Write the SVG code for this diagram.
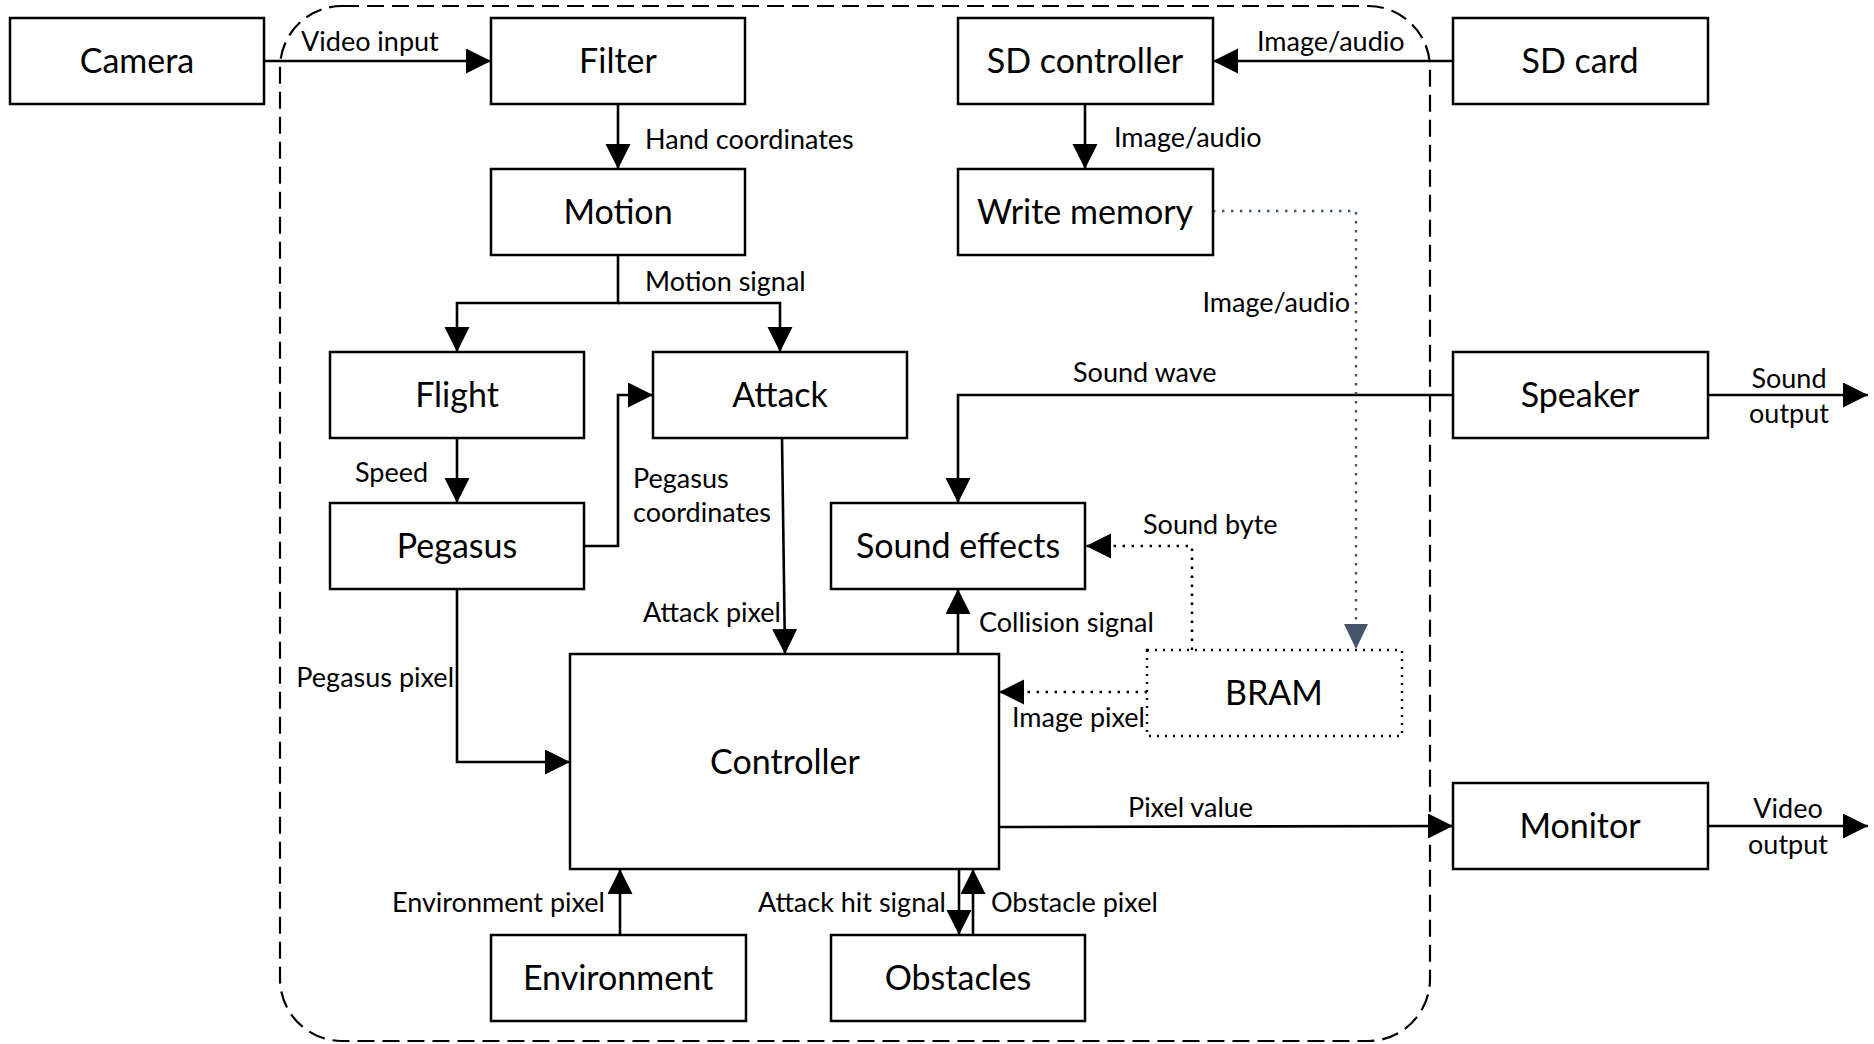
<svg xmlns="http://www.w3.org/2000/svg" width="1874" height="1044" viewBox="0 0 1874 1044">
<style>
.box{fill:#fff;stroke:#000;stroke-width:2.5}
.dbox{fill:none;stroke:#000;stroke-width:2.4;stroke-dasharray:2 6}
.bt{font-family:Lato,"Open Sans",sans-serif;font-size:34px;fill:#000;text-anchor:middle}
.lt{font-family:Lato,"Open Sans",sans-serif;font-size:27px;fill:#000}
.ln{fill:none;stroke:#000;stroke-width:2.6}
.dl{fill:none;stroke:#000;stroke-width:2.6;stroke-dasharray:2.4 6.6}
.gl{fill:none;stroke:#44546A;stroke-width:2.4;stroke-dasharray:2.4 6.6}
</style>
<defs>
<marker id="a" markerUnits="userSpaceOnUse" markerWidth="26" markerHeight="26" refX="25" refY="12.5" orient="auto">
<path d="M0,0 L25,12.5 L0,25 z" fill="#000"/>
</marker>
<marker id="g" markerUnits="userSpaceOnUse" markerWidth="26" markerHeight="26" refX="25" refY="12" orient="auto">
<path d="M0,0 L25,12 L0,24 z" fill="#44546A"/>
</marker>
</defs>
<rect x="280" y="6" width="1150" height="1035" rx="62" ry="62" fill="none" stroke="#000" stroke-width="2.2" stroke-dasharray="17 8"/>
<g id="connectors">
<path class="ln" d="M264,61 H491" marker-end="url(#a)"/>
<path class="ln" d="M618,104 V169" marker-end="url(#a)"/>
<path class="ln" d="M1453,61 H1213" marker-end="url(#a)"/>
<path class="ln" d="M1085,104 V169" marker-end="url(#a)"/>
<path class="ln" d="M618,255 V303 H457 V352" marker-end="url(#a)"/>
<path class="ln" d="M618,303 H780 V352" marker-end="url(#a)"/>
<path class="ln" d="M457,438 V503" marker-end="url(#a)"/>
<path class="ln" d="M584,546 H618 V395 H653" marker-end="url(#a)"/>
<path class="ln" d="M782,438 L785,654" marker-end="url(#a)"/>
<path class="ln" d="M457,589 V762 H570" marker-end="url(#a)"/>
<path class="ln" d="M1453,395 H958 V503" marker-end="url(#a)"/>
<path class="ln" d="M1708,395 H1868" marker-end="url(#a)"/>
<path class="ln" d="M999,827 L1453,826" marker-end="url(#a)"/>
<path class="ln" d="M1708,826 H1868" marker-end="url(#a)"/>
<path class="ln" d="M958,654 V589" marker-end="url(#a)"/>
<path class="dl" d="M1192,650 V546 H1086" marker-end="url(#a)"/>
<path class="dl" d="M1147,692 H999" marker-end="url(#a)"/>
<path class="gl" d="M1213,211 H1356 V649" marker-end="url(#g)"/>
<path class="ln" d="M620,935 V869" marker-end="url(#a)"/>
<path class="ln" d="M959,869 V935" marker-end="url(#a)"/>
<path class="ln" d="M973,935 V869" marker-end="url(#a)"/>
</g>
<g id="labels">
<text class="lt" x="301" y="51">Video input</text>
<text class="lt" x="645" y="149">Hand coordinates</text>
<text class="lt" x="645" y="291">Motion signal</text>
<text class="lt" x="1257" y="51">Image/audio</text>
<text class="lt" x="1114" y="147">Image/audio</text>
<text class="lt" x="1350" y="312" text-anchor="end">Image/audio</text>
<text class="lt" x="1073" y="382">Sound wave</text>
<text class="lt" x="1789" y="388" text-anchor="middle">Sound</text>
<text class="lt" x="1789" y="423" text-anchor="middle">output</text>
<text class="lt" x="355" y="482">Speed</text>
<text class="lt" x="633" y="488">Pegasus</text>
<text class="lt" x="633" y="522">coordinates</text>
<text class="lt" x="781" y="622" text-anchor="end">Attack pixel</text>
<text class="lt" x="454" y="687" text-anchor="end">Pegasus pixel</text>
<text class="lt" x="1143" y="534">Sound byte</text>
<text class="lt" x="979" y="632">Collision signal</text>
<text class="lt" x="1145" y="727" text-anchor="end">Image pixel</text>
<text class="lt" x="1128" y="817">Pixel value</text>
<text class="lt" x="1788" y="818" text-anchor="middle">Video</text>
<text class="lt" x="1788" y="854" text-anchor="middle">output</text>
<text class="lt" x="605" y="912" text-anchor="end">Environment pixel</text>
<text class="lt" x="946" y="912" text-anchor="end">Attack hit signal</text>
<text class="lt" x="991" y="912">Obstacle pixel</text>
</g>
<g id="camera"><rect class="box" x="10" y="18" width="254" height="86"/><text class="bt" x="137" y="73">Camera</text></g>
<g id="filter"><rect class="box" x="491" y="18" width="254" height="86"/><text class="bt" x="618" y="73">Filter</text></g>
<g id="sd-controller"><rect class="box" x="958" y="18" width="255" height="86"/><text class="bt" x="1085" y="73">SD controller</text></g>
<g id="sd-card"><rect class="box" x="1453" y="18" width="255" height="86"/><text class="bt" x="1580" y="73">SD card</text></g>
<g id="motion"><rect class="box" x="491" y="169" width="254" height="86"/><text class="bt" x="618" y="224">Motion</text></g>
<g id="write-memory"><rect class="box" x="958" y="169" width="255" height="86"/><text class="bt" x="1085" y="224">Write memory</text></g>
<g id="flight"><rect class="box" x="330" y="352" width="254" height="86"/><text class="bt" x="457" y="407">Flight</text></g>
<g id="attack"><rect class="box" x="653" y="352" width="254" height="86"/><text class="bt" x="780" y="407">Attack</text></g>
<g id="speaker"><rect class="box" x="1453" y="352" width="255" height="86"/><text class="bt" x="1580" y="407">Speaker</text></g>
<g id="pegasus"><rect class="box" x="330" y="503" width="254" height="86"/><text class="bt" x="457" y="558">Pegasus</text></g>
<g id="sound-effects"><rect class="box" x="831" y="503" width="254" height="86"/><text class="bt" x="958" y="558">Sound effects</text></g>
<g id="bram"><rect class="dbox" x="1147" y="650" width="255" height="86"/><text class="bt" x="1274" y="705">BRAM</text></g>
<g id="controller"><rect class="box" x="570" y="654" width="429" height="215"/><text class="bt" x="785" y="774">Controller</text></g>
<g id="monitor"><rect class="box" x="1453" y="783" width="255" height="86"/><text class="bt" x="1580" y="838">Monitor</text></g>
<g id="environment"><rect class="box" x="491" y="935" width="255" height="86"/><text class="bt" x="618" y="990">Environment</text></g>
<g id="obstacles"><rect class="box" x="831" y="935" width="254" height="86"/><text class="bt" x="958" y="990">Obstacles</text></g>
</svg>
